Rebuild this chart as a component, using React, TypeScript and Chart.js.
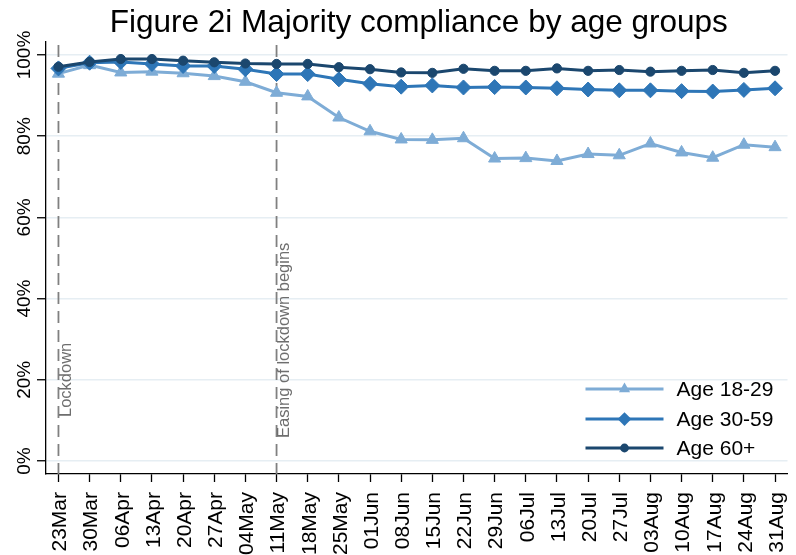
import React, { useEffect, useRef } from 'react';
import { Chart, registerables } from 'chart.js';

Chart.register(...registerables);

// ---- data ----
const chartTitle = 'Figure 2i Majority compliance by age groups';
const weekLabels = ['23Mar', '30Mar', '06Apr', '13Apr', '20Apr', '27Apr', '04May', '11May', '18May', '25May', '01Jun', '08Jun', '15Jun', '22Jun', '29Jun', '06Jul', '13Jul', '20Jul', '27Jul', '03Aug', '10Aug', '17Aug', '24Aug', '31Aug'];
const age1829 = [95.4, 97.5, 95.7, 95.9, 95.5, 94.8, 93.4, 90.7, 89.8, 84.6, 81.2, 79.2, 79.1, 79.5, 74.5, 74.6, 73.9, 75.6, 75.3, 78.2, 76.0, 74.7, 77.9, 77.3];
const age3059 = [96.7, 98.1, 98.3, 97.8, 97.3, 97.3, 96.5, 95.3, 95.3, 94.0, 92.9, 92.2, 92.5, 92.0, 92.1, 92.0, 91.8, 91.5, 91.3, 91.3, 91.1, 91.0, 91.4, 91.8];
const age60 = [97.1, 98.3, 99.0, 99.0, 98.6, 98.2, 97.9, 97.8, 97.8, 97.0, 96.5, 95.7, 95.6, 96.6, 96.1, 96.1, 96.7, 96.1, 96.3, 95.9, 96.1, 96.3, 95.6, 96.1];
const yTicks = [0, 20, 40, 60, 80, 100];
const seriesNames = ['Age 18-29', 'Age 30-59', 'Age 60+'];
const eventLabels = ['Lockdown', 'Easing of lockdown begins'];
const eventIndex = [0, 7];

const FONT = "'Liberation Sans', Arial, Helvetica, sans-serif";
const COLORS = ['#7eacd6', '#2e76b7', '#1b476e'];
const STYLES = ['triangle', 'rectRot', 'circle'];
const RADII = [7, 7.5, 4.6];

function drawMarker(ctx: CanvasRenderingContext2D, style: string, x: number, y: number, r: number, color: string) {
  ctx.save();
  ctx.fillStyle = color;
  ctx.beginPath();
  if (style === 'triangle') {
    for (let k = 0; k < 3; k++) {
      const a = (k * 2 * Math.PI) / 3;
      const px = x + Math.sin(a) * r;
      const py = y - Math.cos(a) * r;
      if (k === 0) ctx.moveTo(px, py);
      else ctx.lineTo(px, py);
    }
    ctx.closePath();
  } else if (style === 'rectRot') {
    ctx.moveTo(x - r, y);
    ctx.lineTo(x, y - r);
    ctx.lineTo(x + r, y);
    ctx.lineTo(x, y + r);
    ctx.closePath();
  } else {
    ctx.arc(x, y, r, 0, Math.PI * 2);
  }
  ctx.fill();
  ctx.restore();
}

const overlayPlugin = {
  id: 'overlay',
  beforeDatasetsDraw(chart: any) {
    const { ctx, chartArea, scales } = chart;
    const xs = scales.x;
    const lifts = [57, 36];
    eventIndex.forEach((idx, i) => {
      const px = xs.getPixelForValue(idx);
      ctx.save();
      ctx.strokeStyle = '#808080';
      ctx.lineWidth = 1.8;
      ctx.setLineDash([12, 7]);
      ctx.beginPath();
      ctx.moveTo(px, chartArea.top + 3);
      ctx.lineTo(px, chartArea.bottom);
      ctx.stroke();
      ctx.setLineDash([]);
      ctx.translate(px + 12.7, chartArea.bottom - lifts[i]);
      ctx.rotate(-Math.PI / 2);
      ctx.font = `16.5px ${FONT}`;
      ctx.fillStyle = '#6e6e6e';
      ctx.textAlign = 'left';
      ctx.textBaseline = 'alphabetic';
      ctx.fillText(eventLabels[i], 0, 0);
      ctx.restore();
    });
  },
  afterDraw(chart: any) {
    const { ctx, chartArea, scales } = chart;
    const ys = scales.y;
    // title centred over the plot region
    ctx.save();
    ctx.font = `31.5px ${FONT}`;
    ctx.fillStyle = '#000';
    ctx.textAlign = 'center';
    ctx.textBaseline = 'alphabetic';
    ctx.fillText(chartTitle, (chartArea.left + chartArea.right) / 2 + 2, 32);
    ctx.restore();
    // y tick labels (rotated)
    ys.ticks.forEach((t: any) => {
      const py = ys.getPixelForValue(t.value);
      ctx.save();
      ctx.translate(chartArea.left - 16, py);
      ctx.rotate(-Math.PI / 2);
      ctx.font = `19px ${FONT}`;
      ctx.fillStyle = '#000';
      ctx.textAlign = 'center';
      ctx.textBaseline = 'alphabetic';
      ctx.fillText(`${t.value}%`, 0, 0);
      ctx.restore();
    });
    // legend
    const rows = [-85, -55, -26];
    seriesNames.forEach((name, i) => {
      const y = chartArea.bottom + rows[i];
      const x0 = chartArea.right - 202;
      const x1 = chartArea.right - 124;
      ctx.save();
      ctx.strokeStyle = COLORS[i];
      ctx.lineWidth = 3;
      ctx.beginPath();
      ctx.moveTo(x0, y);
      ctx.lineTo(x1, y);
      ctx.stroke();
      ctx.restore();
      drawMarker(ctx, STYLES[i], (x0 + x1) / 2, y, RADII[i] * 0.85 + 0.5, COLORS[i]);
      ctx.save();
      ctx.font = `21px ${FONT}`;
      ctx.fillStyle = '#000';
      ctx.textAlign = 'left';
      ctx.textBaseline = 'middle';
      ctx.fillText(name, chartArea.right - 111, y + 1);
      ctx.restore();
    });
  },
};

export default function App() {
  const canvasRef = useRef<HTMLCanvasElement | null>(null);

  useEffect(() => {
    const canvas = canvasRef.current;
    if (!canvas) return;
    const seriesValues = [age1829, age3059, age60];
    const datasets = seriesValues.map((vals, i) => ({
      label: seriesNames[i],
      data: vals.map((v, k) => ({ x: k, y: v })),
      borderColor: COLORS[i],
      backgroundColor: COLORS[i],
      borderWidth: 3,
      pointStyle: STYLES[i],
      pointRadius: RADII[i],
      pointBackgroundColor: COLORS[i],
      pointBorderColor: COLORS[i],
      pointBorderWidth: 1,
      tension: 0,
      fill: false,
      order: 2 - i,
    }));

    const chart = new Chart(canvas, {
      type: 'line',
      data: { datasets },
      options: {
        animation: false,
        responsive: false,
        devicePixelRatio: 1,
        layout: { padding: { left: 0, right: 0, top: 42, bottom: 0 } },
        plugins: {
          legend: { display: false },
          tooltip: { enabled: false },
          title: { display: false },
        },
        scales: {
          x: {
            type: 'linear',
            min: -0.4,
            max: 23.4,
            afterBuildTicks: (s: any) => {
              s.ticks = weekLabels.map((_, i) => ({ value: i }));
            },
            afterFit: (s: any) => {
              s.height = 81;
              s.paddingLeft = 0;
              s.paddingRight = 0;
            },
            ticks: {
              autoSkip: false,
              minRotation: 90,
              maxRotation: 90,
              padding: 10,
              labelOffset: 2,
              color: '#000',
              font: { size: 21, family: FONT },
              callback: (v: any) => weekLabels[Math.round(v)] ?? '',
            },
            grid: { drawOnChartArea: false, tickLength: 8, tickColor: '#000', tickWidth: 1.3 },
            border: { display: true, color: '#000', width: 1.3 },
          },
          y: {
            type: 'linear',
            min: -3.2,
            max: 103.2,
            afterBuildTicks: (s: any) => {
              s.ticks = yTicks.map((v) => ({ value: v }));
            },
            afterFit: (s: any) => {
              s.width = 46;
              s.paddingTop = 0;
              s.paddingBottom = 0;
            },
            ticks: { display: false },
            grid: { color: '#e6eef3', lineWidth: 1.5, tickLength: 9, tickColor: '#000', tickWidth: 1.3 },
            border: { display: true, color: '#000', width: 1.3 },
          },
        },
      },
      plugins: [overlayPlugin],
    } as any);

    return () => {
      chart.destroy();
    };
  }, []);

  return (
    <div style={{ position: 'absolute', left: 0, top: 0, width: 796, height: 555, background: '#fff' }}>
      <canvas ref={canvasRef} width={796} height={555} style={{ display: 'block' }} />
    </div>
  );
}
